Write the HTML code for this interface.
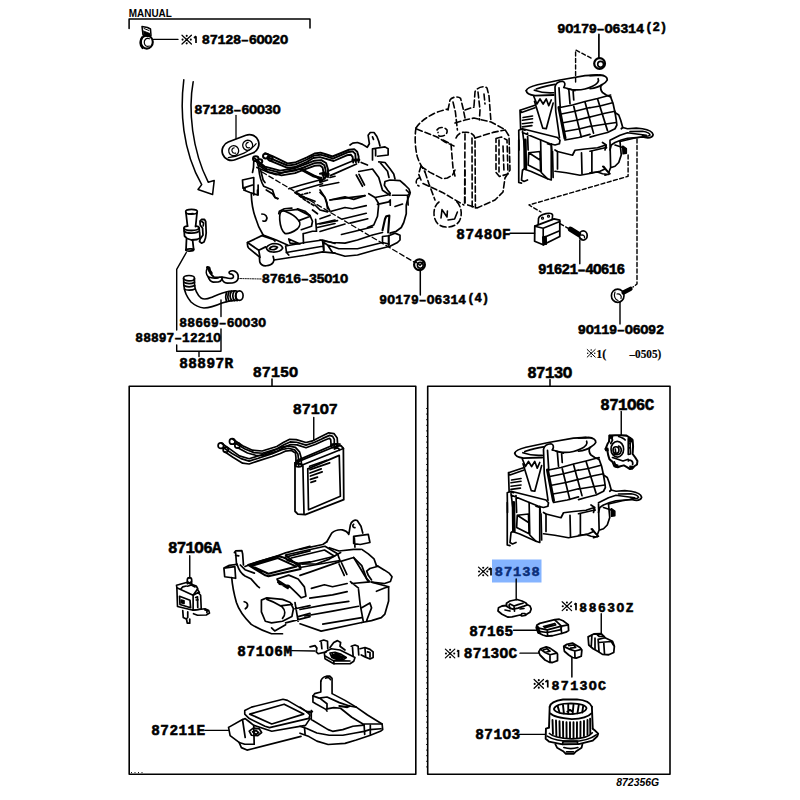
<!DOCTYPE html>
<html><head><meta charset="utf-8"><style>
html,body{margin:0;padding:0;background:#fff;}
svg{display:block}
.b{font-family:"Liberation Mono",monospace;font-weight:bold;stroke:#000;stroke-width:0.55px;}
.r{font-family:"Liberation Sans",sans-serif;}
.s{font-family:"Liberation Serif",serif;}
</style></head><body>
<svg width="800" height="800" viewBox="0 0 800 800">
<rect width="800" height="800" fill="#fff"/>
<rect x="492" y="559.5" width="49.5" height="23" fill="#85b4ff"/>
<g stroke="#000" fill="none" stroke-width="1.7" stroke-linecap="round" stroke-linejoin="round">
<!-- boxes -->
<rect x="129.2" y="386.2" width="286.6" height="388" stroke-width="1.6"/>
<rect x="427.7" y="386.2" width="242.3" height="388" stroke-width="1.6"/>
<!-- top bracket MANUAL -->
<path d="M129.1 28.5 V19.1 H310 V28" stroke-width="1.53"/>
<!-- clip 87128-60020 -->
<g>
<path d="M142 26.5 L147.5 27.5 L150.5 29 L151 35.5 L148 36.5 L143 35 Z" stroke-width="1.5"/>
<path d="M143.5 31 L150 33.5 L150 36 L143.5 34.5 Z" fill="#000" stroke-width="0.8"/>
<path d="M144 28.5 L149 30.5" stroke-width="1"/>
<ellipse cx="146.8" cy="42" rx="6" ry="6.6" stroke-width="2.1"/>
<path d="M142 37.5 C139.8 41 140 46 142.5 48" stroke-width="2.2"/>
<path d="M149.5 38.8 C145.5 37.5 144 40.5 144.3 43 C144.7 46 147 47 149.3 46" stroke-width="1.2"/>
<path d="M153.5 39.4 H178" stroke-width="1.3"/>
</g>
<!-- leader 87128-60030 -->
<path d="M236 115.5 V138.7" stroke-width="1.3"/>
<!-- grommet -->
<g transform="translate(240.5,147.5) rotate(-21)">
<rect x="-19" y="-9.5" width="38" height="19" rx="9.5" stroke-width="1.77"/>
<path d="M-15 5 C-5 8 8 7 16 2" stroke-width="1.18"/>
<circle cx="-7.5" cy="0.5" r="5" stroke-width="1.3"/>
<circle cx="7.5" cy="0.5" r="5" stroke-width="1.3"/>
<path d="M-6 -2 C-10 -2.5 -10.5 3 -6.5 3.5 M9 -2 C5 -2.5 4.5 3 8.5 3.5" stroke-width="1.18"/>
</g>
<!-- big arrow -->
<path d="M183.8 79.8 C180 110 182 150 201.7 184.6 L198 189.5 L212.6 194.4 L214.2 180.6 L208.2 182.2 C192 150 188 110 193.2 81.7" stroke-width="1.53"/>
<path d="M272 379 V386 M550 379.4 V386" stroke-width="1.53"/>
<path d="M426.7 408 V772" stroke-width="1" stroke-dasharray="1 4.6" stroke-linecap="butt"/>
<path d="M131 772.6 H145" stroke-width="1" stroke-dasharray="1 2.5" stroke-linecap="butt"/>

<!-- comp/10_heater_bl.svg -->
<g transform="translate(235,190) scale(0.125)">
<g vector-effect="non-scaling-stroke">
<path vector-effect="non-scaling-stroke" d="M130 30 C132 90 140 160 165 225 C180 280 200 320 225 360"/>
<path vector-effect="non-scaling-stroke" d="M215 192 C245 192 262 215 252 238 C246 250 232 252 224 248"/>
<path vector-effect="non-scaling-stroke" d="M375 170 C362 175 355 200 358 240 C362 290 378 330 400 348 C420 355 470 335 500 310 C520 290 525 262 510 245 C490 215 440 185 400 170 C390 166 380 167 375 170 Z"/>
<path vector-effect="non-scaling-stroke" d="M395 168 L500 155 L600 205 L620 250 L612 290 L530 318 M510 245 L598 212"/>
<path vector-effect="non-scaling-stroke" d="M350 190 L355 170 L395 150 L455 145 M500 150 L560 170 L600 205"/>
<path vector-effect="non-scaling-stroke" d="M645 235 L652 330 M660 272 L800 240 M658 300 L800 268"/>
<path vector-effect="non-scaling-stroke" d="M545 348 L548 425 M545 350 L620 330 L650 330"/>
<path vector-effect="non-scaling-stroke" d="M225 360 L330 400 L420 440"/>
<path vector-effect="non-scaling-stroke" d="M430 392 L440 425 L520 432 Z"/>
<path vector-effect="non-scaling-stroke" d="M100 420 L215 365 L305 395 L320 408 M100 420 C98 440 102 458 110 465 L195 535 L198 575 C205 595 225 608 250 606 C275 604 295 595 305 580 L312 560 L560 522 L700 495 L800 505"/>
<path vector-effect="non-scaling-stroke" d="M100 420 L190 482 L245 455 M190 482 L200 540 M312 560 L305 530"/>
<path vector-effect="non-scaling-stroke" d="M250 462 C265 440 290 428 320 428 C350 430 375 445 382 465 C370 485 335 498 300 496 C275 494 255 480 250 462 Z M275 470 C285 450 320 445 340 458 C330 478 300 485 275 470 Z"/>
<path vector-effect="non-scaling-stroke" d="M405 448 L412 500 L430 520 M405 448 L560 420 L700 400 L800 428 M410 500 L700 450 M700 402 L710 485"/>
<path vector-effect="non-scaling-stroke" d="M70 0 L120 20 L180 40 M250 0 L300 30 L320 60 L340 70 M180 40 L180 0"/>
<path vector-effect="non-scaling-stroke" d="M480 20 L560 60 L640 90 M520 50 L600 80 M640 120 L680 160 L740 175 M620 160 L660 190 M680 0 L720 60 L740 130 L760 170"/>
</g>
</g>

<!-- comp/11_heater_tl.svg -->
<g transform="translate(235,130) scale(0.125)">
<ellipse vector-effect="non-scaling-stroke" cx="166" cy="229" rx="22" ry="19" stroke-width="2"/>
<ellipse vector-effect="non-scaling-stroke" cx="199" cy="250" rx="19" ry="17" stroke-width="2"/>
<ellipse vector-effect="non-scaling-stroke" cx="246" cy="208" rx="22" ry="19" stroke-width="2"/>
<ellipse vector-effect="non-scaling-stroke" cx="282" cy="226" rx="19" ry="17" stroke-width="2"/>
<path vector-effect="non-scaling-stroke" d="M175 300 L270 340 L330 358 L400 335 L520 310 L560 300"/>
<path vector-effect="non-scaling-stroke" d="M150 252 L148 300 L140 340 M180 270 L190 300"/>
<path vector-effect="non-scaling-stroke" d="M60 400 L150 380 M60 400 L64 465 L82 472 M64 465 L140 440 M150 380 L150 520 M185 440 L185 520"/>
<path vector-effect="non-scaling-stroke" d="M190 310 C195 360 205 410 230 450 L300 480 L320 540 L345 548"/>
<path vector-effect="non-scaling-stroke" d="M205 320 L225 400 L240 420"/>
<path vector-effect="non-scaling-stroke" d="M430 470 L530 440 L640 410 L720 390 M490 492 L560 470 L700 430"/>
<path vector-effect="non-scaling-stroke" d="M540 318 L660 380 L690 400" stroke-width="2.36"/>
<path vector-effect="non-scaling-stroke" d="M690 380 L680 420 L740 400 M760 380 L800 370"/>
<path vector-effect="non-scaling-stroke" d="M480 500 L560 560 L640 610 M520 520 L600 500" stroke-dasharray="3 2"/>
</g>

<!-- comp/12_heater_tr.svg -->
<g transform="translate(320,125) scale(0.125)">
<path vector-effect="non-scaling-stroke" d="M62 370 L250 292 M82 405 L292 312"/>
<path vector-effect="non-scaling-stroke" d="M240 160 L262 145 L300 140 L340 155 L378 178 L395 150 L385 82 L402 60 L432 60 L455 92 L470 130 L480 168"/>
<path vector-effect="non-scaling-stroke" d="M420 95 L428 115"/>
<path vector-effect="non-scaling-stroke" d="M420 190 L520 175 L545 190 L545 240 L460 250 M420 190 L420 280 M445 195 L445 245"/>
<path vector-effect="non-scaling-stroke" d="M470 295 L520 300 L560 350 L590 392 L600 432 M482 302 L540 370 L552 420"/>
<path vector-effect="non-scaling-stroke" d="M520 452 L560 440 L640 445 L680 480 L712 512 L722 542 L702 562 L580 562 M520 452 L515 482 L540 520 L560 545 M700 562 L705 640"/>
<path vector-effect="non-scaling-stroke" d="M0 490 L150 460 M80 600 L200 585 L360 565 M290 400 L340 490 M312 395 L356 480"/>
<path vector-effect="non-scaling-stroke" d="M330 300 L380 320 M310 372 L420 352 L470 420 L500 522 L560 562"/>
<path vector-effect="non-scaling-stroke" d="M0 390 L40 380 L60 400 L20 440 L0 450" stroke-width="2.12"/>
</g>

<!-- comp/13_heater_br.svg -->
<g transform="translate(320,190) scale(0.125)">
<path vector-effect="non-scaling-stroke" d="M0 20 L40 60 L55 100 L60 150"/>
<path vector-effect="non-scaling-stroke" d="M80 80 L160 62 L200 55 L270 75 L360 45"/>
<path vector-effect="non-scaling-stroke" d="M90 170 L200 140 L260 150 L370 125"/>
<path vector-effect="non-scaling-stroke" d="M0 230 L80 202 M0 272 L140 245 M180 232 L370 186 M240 265 L382 230 M0 332 L200 272 M172 356 L420 296"/>
<path vector-effect="non-scaling-stroke" d="M390 30 L440 60 L470 110 L460 210 L430 280 L380 300 M440 60 L540 40 L562 30 M460 115 L550 95 L562 80 M562 80 L562 122 M600 132 L660 112"/>
<path vector-effect="non-scaling-stroke" d="M690 0 L720 30 L700 80 L690 120 L690 190 L670 260 L650 300 L610 330 L560 345"/>
<path vector-effect="non-scaling-stroke" d="M530 210 L555 205 L545 340 M500 322 L520 232 L530 210" stroke-width="2.12"/>
<path vector-effect="non-scaling-stroke" d="M0 400 L40 410 L100 420 L200 425 L300 400 L420 360 L500 340"/>
<path vector-effect="non-scaling-stroke" d="M30 420 L60 440 L150 470 L300 470 L500 420 M60 440 L100 500 L200 530 L300 520 L440 480 L560 450 L620 420 L640 400 L640 362 L600 345 M500 372 L550 366 L600 345 M500 372 L500 420 L550 432 M30 420 L30 482"/>
<path vector-effect="non-scaling-stroke" d="M550 366 L550 440" stroke-width="2.12"/>
</g>
<path d="M262 172 L414 262" stroke-dasharray="5 3" stroke-width="1.3"/>

<!-- comp/14_pipes.svg -->
<g transform="translate(250,140) scale(0.15)" stroke-width="1.9">
<path vector-effect="non-scaling-stroke" d="M100 88 L150 108 L250 156 L300 150 L380 116 L430 90 L470 84 L505 95 L550 110 L600 90 L660 65 L695 61 L715 78 L724 110 L724 148"/>
<path vector-effect="non-scaling-stroke" d="M116 114 L250 170 L300 164 L380 130 L425 104 L468 98 L505 108 L553 124 L650 82 L685 76 L702 93 L706 148"/>
<path vector-effect="non-scaling-stroke" d="M132 138 L250 186 L300 180 L380 146 L422 120 L466 114 L502 124 L558 140 L645 102 L672 98 L684 112 L688 150"/>
<path vector-effect="non-scaling-stroke" d="M30 122 L100 178 L200 204 L300 188 L380 158 L430 138 L475 134 L507 153 L520 195 L520 248"/>
<path vector-effect="non-scaling-stroke" d="M45 146 L110 194 L205 219 L300 204 L380 174 L430 154 L470 151 L496 168 L504 200 L504 248"/>
<path vector-effect="non-scaling-stroke" d="M60 170 L120 212 L210 236 L300 221 L360 198 L430 172 L465 169 L484 184 L489 210 L489 248"/>
<path vector-effect="non-scaling-stroke" d="M340 196 L420 240 L470 252" stroke-width="2.36"/>
<path vector-effect="non-scaling-stroke" d="M485 230 L522 228 M685 135 L726 132" stroke-width="2.83"/>
</g>

<!-- comp/20_valve.svg -->
<g transform="translate(170,200) scale(0.1)">
<ellipse vector-effect="non-scaling-stroke" cx="215" cy="118" rx="58" ry="24" stroke-width="1.77"/>
<path vector-effect="non-scaling-stroke" d="M160 130 L175 262 M270 130 L256 265" stroke-width="1.77"/>
<path vector-effect="non-scaling-stroke" d="M175 262 C150 262 138 270 140 285 C150 300 190 305 215 305 C250 305 285 295 292 282 C292 268 275 260 256 262" stroke-width="1.77"/>
<path vector-effect="non-scaling-stroke" d="M140 285 L142 310 C150 325 190 332 215 332 C250 330 285 322 294 308 L292 282" stroke-width="1.77"/>
<path vector-effect="non-scaling-stroke" d="M142 310 L145 360 L170 385 L215 400 L270 395 L300 380 L296 320" stroke-width="1.77"/>
<path vector-effect="non-scaling-stroke" d="M165 392 L160 500 M226 402 L236 492" stroke-width="1.77"/>
<path vector-effect="non-scaling-stroke" d="M158 500 C160 515 235 515 238 495 M160 500 C165 488 230 485 236 492" stroke-width="1.77"/>
<path vector-effect="non-scaling-stroke" d="M300 212 L315 195 L345 195 L357 215 L362 330 L355 380 L340 420 L315 432 L295 415 L302 390 L330 350 L326 282 L302 250 Z" stroke-width="1.77"/>
<path vector-effect="non-scaling-stroke" d="M318 215 L336 230 L332 258"/>
<path vector-effect="non-scaling-stroke" d="M185 140 L230 135"/>
</g>
<path d="M186.3 252.5 L176.7 269.3 V330" stroke-width="1.42"/>

<!-- comp/21_hose.svg -->
<g transform="translate(175,265) scale(0.1)">
<ellipse vector-effect="non-scaling-stroke" cx="140" cy="132" rx="55" ry="27" stroke-width="1.65"/>
<path vector-effect="non-scaling-stroke" d="M86 132 L88 200 C92 260 110 310 160 370 C200 405 240 425 290 430 C360 428 420 402 470 380 C520 362 570 352 620 355" stroke-width="1.65"/>
<path vector-effect="non-scaling-stroke" d="M195 135 L195 190 C198 240 210 285 260 330 C280 342 320 342 360 325 C420 300 480 272 540 262 C570 258 590 258 610 258" stroke-width="1.65"/>
<path vector-effect="non-scaling-stroke" d="M88 172 C110 190 170 190 195 172 M90 205 C110 222 170 222 196 205 M95 240 C110 255 170 255 200 240" />
<ellipse vector-effect="non-scaling-stroke" cx="645" cy="306" rx="36" ry="48" stroke-width="1.65"/>
<path vector-effect="non-scaling-stroke" d="M565 262 C548 290 548 330 568 356 M592 260 C575 290 575 330 595 356 M620 262 C602 290 602 330 622 356 M540 268 C525 300 525 330 540 360 M515 275 C505 300 505 330 515 365"/>

<path vector-effect="non-scaling-stroke" d="M325 25 L340 30 L346 58 L362 82" stroke-width="3.07"/>
<path vector-effect="non-scaling-stroke" d="M322 38 C308 60 310 95 332 118 C338 140 352 165 382 172 L432 170 C455 165 466 152 470 140 C476 160 495 178 522 182 L572 180 C600 176 622 162 630 140 C636 112 628 82 606 68 C590 56 560 56 545 66 C535 78 545 92 568 92 C585 100 590 116 578 130 C560 138 530 134 510 128 C490 122 470 120 450 121 C430 124 405 124 390 120 C370 108 358 90 350 75"/>
<path vector-effect="non-scaling-stroke" d="M335 120 C360 130 400 132 430 128 M470 140 L470 122"/>
</g>
<path d="M238 278.5 L262 279" stroke-width="0.9" stroke-dasharray="1.2 1.2"/>
<path d="M176.7 345 V351.2 H221 V329 M199 351.2 V356.5" stroke-width="1.42"/>
<path d="M221 300 V316.5" stroke-width="1.42"/>

<!-- comp/30_evap_dashed.svg -->
<g transform="translate(405,80) scale(0.2)" stroke-dasharray="6 3" stroke-width="1.6">
<path vector-effect="non-scaling-stroke" d="M55 240 C70 215 100 190 150 165 C175 155 200 148 215 145"/>
<path vector-effect="non-scaling-stroke" d="M55 240 C48 280 50 340 62 385 C70 410 82 430 100 460"/>
<path vector-effect="non-scaling-stroke" d="M58 245 L160 285 L200 310 L245 330"/>
<path vector-effect="non-scaling-stroke" d="M215 150 L225 100 C232 85 265 80 278 92 L290 140 L300 190"/>
<path vector-effect="non-scaling-stroke" d="M240 110 L252 160 L262 250 M300 150 L345 135"/>
<path vector-effect="non-scaling-stroke" d="M345 130 L350 60 C355 40 395 25 410 40 L420 80 L430 210"/>
<path vector-effect="non-scaling-stroke" d="M365 60 L375 150 L372 200 M395 70 L400 120"/>
<path vector-effect="non-scaling-stroke" d="M250 215 L300 200 L345 190 L430 210 L500 248 L520 280 L525 450 L500 490 L490 560 L450 600 L360 640 L300 620"/>
<path vector-effect="non-scaling-stroke" d="M255 290 C262 270 285 258 300 262 C320 258 345 270 350 290 L352 640"/>
<path vector-effect="non-scaling-stroke" d="M300 270 L298 620 M335 290 L336 640"/>
<path vector-effect="non-scaling-stroke" d="M350 290 L440 262 L500 250"/>
<path vector-effect="non-scaling-stroke" d="M80 432 L125 462 L188 494 L212 490 L238 475 L250 450 M300 450 L300 620"/>
<path vector-effect="non-scaling-stroke" d="M160 250 C170 232 200 235 210 250 C215 270 195 285 170 280 L165 262 M190 300 L230 320 L240 440 L250 480"/>
<path vector-effect="non-scaling-stroke" d="M455 292 L482 285 L510 300 L515 470 L472 482 L455 462 Z M470 300 L470 460 M490 330 L495 460"/>
<path vector-effect="non-scaling-stroke" d="M80 430 L68 470 L80 500 M70 490 C55 495 48 520 70 530 M100 460 L120 520 L150 600"/>
<path vector-effect="non-scaling-stroke" d="M170 610 C140 630 135 690 165 720 C195 745 250 740 272 705 C290 670 280 625 255 605"/>
<path vector-effect="non-scaling-stroke" d="M90 518 L187 562 L294 625"/>
<path vector-effect="non-scaling-stroke" d="M180 690 L185 648 L210 685 L212 655 M215 700 L248 695 L262 660" stroke-dasharray="none"/>
</g>
<g>
<circle cx="419.5" cy="264.7" r="5.4" stroke-width="2.2"/>
<circle cx="420.3" cy="265.3" r="2.9" stroke-width="1.6"/>
<path d="M416 262 L420 265.5 L423 262" stroke-width="1.2"/>
<path d="M420.3 270.5 V295" stroke-width="1.5"/>
</g>

<!-- comp/40_blower.svg -->
<g id="blw">
<g transform="translate(510,70) scale(0.125)">
<path vector-effect="non-scaling-stroke" d="M130 165 C135 145 170 130 220 118 L400 80 L600 45 L700 40" stroke-width="1.77"/>
<path vector-effect="non-scaling-stroke" d="M130 165 C132 185 160 200 200 205 L350 200" stroke-width="1.77"/>
<path vector-effect="non-scaling-stroke" d="M195 162 C240 178 300 185 350 182 M210 152 C260 135 320 120 360 115"/>
<path vector-effect="non-scaling-stroke" d="M460 150 C520 165 600 160 660 130 C700 110 715 90 705 70"/>
<path vector-effect="non-scaling-stroke" d="M190 210 L215 272 L240 232 L265 272 L290 232 L310 285 L330 240"/>
<path vector-effect="non-scaling-stroke" d="M196 250 L262 465 L290 470 L345 265"/>
<path vector-effect="non-scaling-stroke" d="M360 135 C365 105 385 92 420 90 C440 95 445 115 432 138 M360 135 L366 330 L396 542 M392 142 L402 300"/>
<path vector-effect="non-scaling-stroke" d="M392 300 L440 545" stroke-width="3.07"/>
<path vector-effect="non-scaling-stroke" d="M430 140 L470 150 L480 270 M470 150 L520 165 M505 170 L510 240"/>
<path vector-effect="non-scaling-stroke" d="M400 300 L500 280 L600 252 L700 228 L805 200"/>
<path vector-effect="non-scaling-stroke" d="M440 560 L550 540 L640 515"/>
<path vector-effect="non-scaling-stroke" d="M410 352 L520 330 L640 300 M425 422 L540 400 L640 375 M435 492 L560 470 L640 450"/>
<path vector-effect="non-scaling-stroke" d="M510 290 L570 535 M600 256 L668 505 M700 230 L780 485"/>
<path vector-effect="non-scaling-stroke" d="M80 322 L200 282 M80 322 L85 472 L120 482 M80 322 L92 340 L200 302 M105 380 L180 368 M100 402 L180 390 M100 430 L180 420 M100 455 L175 445"/>
<path vector-effect="non-scaling-stroke" d="M70 482 L100 470 L380 540 L400 562 L395 590 L360 600 L320 590 L100 500 M70 482 L72 640 M100 488 L120 640 M140 505 L145 640"/>
<path vector-effect="non-scaling-stroke" d="M330 590 L335 640"/>
</g>
<g transform="translate(590,70) scale(0.125)">
<path vector-effect="non-scaling-stroke" d="M0 45 L80 40 C120 42 140 60 138 80 C130 100 110 110 92 120 C80 135 85 165 100 180 L130 200 L165 215" stroke-width="1.77"/>
<path vector-effect="non-scaling-stroke" d="M0 150 C40 145 80 130 95 118"/>
<path vector-effect="non-scaling-stroke" d="M165 215 L185 270 L200 340 L210 400 L215 440 L200 470 L140 500 L60 520 L0 537"/>
<path vector-effect="non-scaling-stroke" d="M0 302 L80 288 L180 262 M0 376 L120 346 L200 330 M0 452 L100 436 L210 420"/>
<path vector-effect="non-scaling-stroke" d="M200 340 L230 360 L245 400 L262 460 L300 470 L370 465 L420 470 C470 478 500 495 505 518 C500 538 480 545 450 542 L420 536 L300 546 L250 560 L200 580 L170 600 L160 640"/>
<path vector-effect="non-scaling-stroke" d="M320 492 L420 490 C455 495 478 505 480 520 C470 532 440 530 420 522 M262 460 L250 470"/>
<path vector-effect="non-scaling-stroke" d="M100 580 L130 600 L120 640 M200 600 L262 620"/>
</g>
<g transform="translate(510,140) scale(0.125)">
<path vector-effect="non-scaling-stroke" d="M70 0 L70 340 L92 345 M112 0 L115 230 L100 242 L92 320 L112 332 L140 320"/>
<path vector-effect="non-scaling-stroke" d="M122 0 L126 230" stroke-width="2.83"/>
<path vector-effect="non-scaling-stroke" d="M150 102 L240 92 L245 250 M150 102 L145 200 L245 250 M150 102 L240 160"/>
<path vector-effect="non-scaling-stroke" d="M245 0 L250 260 L300 310 L330 320 L330 40 L300 30"/>
<path vector-effect="non-scaling-stroke" d="M112 232 L170 252 L300 310"/>
<path vector-effect="non-scaling-stroke" d="M360 80 L380 92 L500 122 L520 82 L600 72 L700 62 L760 42 L772 62"/>
<path vector-effect="non-scaling-stroke" d="M360 250 L450 262 L560 282 L650 266 L720 250 L760 232"/>
<path vector-effect="non-scaling-stroke" d="M380 92 L380 232 M572 102 L576 272 M655 92 L655 262 M340 90 L345 300"/>
<path vector-effect="non-scaling-stroke" d="M742 212 L790 262"/>
</g>
<g transform="translate(590,130) scale(0.125)">
<path vector-effect="non-scaling-stroke" d="M160 82 L240 42 L300 22 L450 42 M240 92 L350 66 L440 52"/>
<path vector-effect="non-scaling-stroke" d="M160 92 L165 300 L150 340 M0 170 L130 140 M240 92 L250 200 L230 260 L200 290 L170 300"/>
<path vector-effect="non-scaling-stroke" d="M262 130 L290 150 L290 185 L265 190 Z" fill="#000"/>
<path vector-effect="non-scaling-stroke" d="M110 292 L140 330 L160 350 L120 362 M0 342 L60 336 L100 350 L150 356"/>
</g>
</g>
<use href="#blw" transform="translate(-11.5,362.5)"/>
<!-- dashed lines top right -->
<path d="M628.1 155 V176.3 L529 205 L541 212 M560 223.7 L571 230" stroke-dasharray="4 2.5" stroke-width="1.42"/>
<path d="M637 139 V284 L633 287" stroke-dasharray="4 2.5" stroke-width="1.42"/>
<path d="M575.6 82 V50 L593 59" stroke-dasharray="4 2.5" stroke-width="1.42"/>
<!-- nut top -->
<circle cx="599.6" cy="63.5" r="5.4" stroke-width="2.2"/>
<circle cx="600.6" cy="64.3" r="2.9" stroke-width="1.6"/>
<path d="M598.9 34.4 V58" stroke-width="1.7"/>

<!-- comp/50_relay.svg -->
<g transform="translate(520,200) scale(0.1)">
<path vector-effect="non-scaling-stroke" d="M182 245 L185 185 C190 160 210 148 260 136 C300 128 320 132 326 150 L322 195" stroke-width="1.65"/>
<circle vector-effect="non-scaling-stroke" cx="225" cy="182" r="10" stroke-width="1.18"/>
<circle vector-effect="non-scaling-stroke" cx="285" cy="162" r="10" stroke-width="1.18"/>
<path vector-effect="non-scaling-stroke" d="M148 262 L340 188 L398 202 L398 365 L232 448 L146 412 Z" stroke-width="1.77"/>
<path vector-effect="non-scaling-stroke" d="M148 262 L232 282 L398 215 M232 282 L232 448" stroke-width="1.65"/>
<path vector-effect="non-scaling-stroke" d="M255 368 L385 312 M258 372 L262 438"/>
<path vector-effect="non-scaling-stroke" d="M228 372 L258 366 L262 440 L234 446 Z" fill="#000"/>
<path vector-effect="non-scaling-stroke" d="M-100 333 L146 333" stroke-width="1.42"/>
<path vector-effect="non-scaling-stroke" d="M505 292 L585 342" stroke-width="5.31"/>
<ellipse vector-effect="non-scaling-stroke" cx="632" cy="355" rx="40" ry="46" stroke-width="1.77"/>
<path vector-effect="non-scaling-stroke" d="M600 330 C590 360 600 385 620 392 M612 352 C630 345 650 358 645 378" stroke-width="1.3"/>
<path vector-effect="non-scaling-stroke" d="M598 400 L598 638" stroke-width="1.42"/>
</g>
<!-- bolt 90119-06092 -->
<g stroke-width="1.65">
<ellipse cx="617.7" cy="295.7" rx="6.3" ry="6.6"/>
<path d="M615 292 C613.5 296 615 299.5 618 300.5 M617 294 C620 293.5 622 296 621 298.5" stroke-width="1.18"/>
<path d="M623.5 292.5 L630.5 288.8" stroke-width="4.25"/>
<path d="M620 302 V324" stroke-width="1.42"/>
</g>

<!-- comp/60_core.svg -->
<g transform="translate(205,410) scale(0.1875)">
<path vector-effect="non-scaling-stroke" d="M580 40 L580 160" stroke-width="1.42"/>
<path vector-effect="non-scaling-stroke" d="M480 282 L700 192 L725 190 L738 205 L740 478 L535 558 L495 555 L480 540 Z" stroke-width="1.77"/>
<path vector-effect="non-scaling-stroke" d="M480 282 L522 292 L528 555 M522 292 L738 205 M490 270 L700 180 L720 182"/>
<path vector-effect="non-scaling-stroke" d="M548 314 L716 242 L722 460 L552 532 Z"/>
<path vector-effect="non-scaling-stroke" d="M558 300 L650 268 M560 318 L665 282 M560 336 L620 314 M562 352 L625 330 M562 370 L600 358 M565 386 L590 378 M690 208 C705 198 720 205 715 215"/>
</g>

<g transform="translate(215,425) scale(0.1625)">
<path vector-effect="non-scaling-stroke" d="M40 112 L95 150 L150 190 L210 208 L260 192 L350 162 L405 138 L450 128 L495 138 L520 165 L530 200 L532 250"/>
<path vector-effect="non-scaling-stroke" d="M55 142 L105 175 L160 207 L210 222 L262 206 L352 176 L410 152 L452 143 L490 153 L510 178 L514 210 L515 250"/>
<path vector-effect="non-scaling-stroke" d="M60 165 L110 198 L170 235 L210 240 L262 222 L352 194 L402 175 L432 161 L470 157 L495 172 L498 200 L498 250"/>
<path vector-effect="non-scaling-stroke" d="M110 88 L170 128 L230 155 L290 160 L380 132 L420 108 L460 88 L500 90 L560 108 L600 98 L650 72 L700 48 L732 53 L752 80 L754 110 L748 132"/>
<path vector-effect="non-scaling-stroke" d="M125 112 L185 148 L240 170 L292 174 L382 146 L424 122 L462 104 L502 106 L560 124 L610 108 L660 84 L705 64 L724 70 L734 88 L734 130"/>
<path vector-effect="non-scaling-stroke" d="M140 140 L200 172 L250 186 L295 188 L385 160 L428 136 L465 120 L505 122 L560 140 L620 118 L670 95 L705 82 L712 90 L715 130"/>
<circle vector-effect="non-scaling-stroke" cx="36" cy="127" r="17"/>
<circle vector-effect="non-scaling-stroke" cx="66" cy="152" r="16"/>
<circle vector-effect="non-scaling-stroke" cx="106" cy="101" r="17"/>
<circle vector-effect="non-scaling-stroke" cx="138" cy="126" r="16"/>
<ellipse vector-effect="non-scaling-stroke" cx="735" cy="128" rx="22" ry="12"/>
<ellipse vector-effect="non-scaling-stroke" cx="515" cy="248" rx="22" ry="10"/>
</g>
<!-- comp/61_heater2.svg -->
<g transform="translate(220,515) scale(0.15625)">
<path vector-effect="non-scaling-stroke" d="M25 340 L95 330 L100 405 L30 395 Z M25 340 L60 322 L110 315"/>
<path vector-effect="non-scaling-stroke" d="M92 240 L100 230 L140 228 L145 250 L150 320 M100 240 L106 320 M100 258 L120 262"/>
<path vector-effect="non-scaling-stroke" d="M110 318 C120 350 135 375 160 390 L200 410 L240 455 L252 465 M130 320 L160 350 L220 372"/>
<path vector-effect="non-scaling-stroke" d="M75 400 C78 440 88 500 105 560 C118 600 140 640 200 700 C240 725 270 740 330 760 L400 760"/>
<path vector-effect="non-scaling-stroke" d="M155 555 C180 560 185 585 162 600"/>
<path vector-effect="non-scaling-stroke" d="M160 330 L240 300 L360 265 L420 242 L576 200"/>
<path vector-effect="non-scaling-stroke" d="M180 320 L370 262 L400 270 L510 320 L516 345 L310 392 L290 386 Z M200 326 L370 276 L490 330 L310 376 Z" stroke-width="2"/>
<path vector-effect="non-scaling-stroke" d="M418 270 L576 230 M430 290 L500 310 L576 300"/>
<path vector-effect="non-scaling-stroke" d="M365 410 L440 385 L500 410 L540 460 L550 520 L520 530 L490 500 L440 452 L380 442 Z M375 420 L440 462 M370 430 L435 470"/>
<path vector-effect="non-scaling-stroke" d="M265 545 L300 530 L400 540 L450 560 L470 600 L460 650 L400 680 L330 690 L290 680 L265 620 Z M300 540 C330 550 370 570 395 585 C420 610 420 640 400 662 M385 582 L462 572"/>
<path vector-effect="non-scaling-stroke" d="M480 600 L576 580 M500 650 L576 630 M420 690 L576 650 M330 722 L350 742 L420 702 M480 560 L490 620 L500 680"/>
</g>
<g transform="translate(300,510) scale(0.1626)">
<path vector-effect="non-scaling-stroke" d="M165 195 L195 142 C210 128 235 120 260 122 C285 128 295 140 300 150 L310 92 C315 70 335 58 352 65 L375 100 L386 142"/>
<path vector-effect="non-scaling-stroke" d="M330 88 C320 95 325 110 338 108"/>
<path vector-effect="non-scaling-stroke" d="M330 162 L420 150 L430 200 L370 212 L330 206 Z M334 168 L338 228"/>
<path vector-effect="non-scaling-stroke" d="M380 242 L420 270 L455 300 L470 342"/>
<path vector-effect="non-scaling-stroke" d="M410 376 L430 360 L480 346 L520 370 L550 390 L566 410 L556 440 L520 452 L440 444 M410 376 L420 402 L440 430"/>
<path vector-effect="non-scaling-stroke" d="M440 444 L545 472 L545 560 L522 640 L500 662 L440 680 L380 692 M360 490 L370 580 L390 690 M382 600 L430 572 L440 602 L410 680"/>
<path vector-effect="non-scaling-stroke" d="M70 482 L150 460 L200 472 L290 452 M60 542 L200 522 L290 502 M0 612 L160 582 L300 562 M30 652 L200 622 L360 592 M140 702 L380 662"/>
<path vector-effect="non-scaling-stroke" d="M0 242 L140 212 L165 195 M0 332 L100 332 L180 302 L250 262 M0 402 L60 382 L230 322 L330 292 L420 440 M240 332 L272 402 M256 326 L288 396"/>
<path vector-effect="non-scaling-stroke" d="M330 292 L380 342 L410 422 L430 442 L320 452 L310 440 L360 480"/>
<path vector-effect="non-scaling-stroke" d="M180 232 L240 252 L330 242 L372 242 M0 700 L130 745 L380 692"/>
<path vector-effect="non-scaling-stroke" d="M470 342 L480 346 M545 472 L520 480 L470 500"/>
</g>
<g transform="translate(205,505) scale(0.25)">
<path vector-effect="non-scaling-stroke" d="M322 200 L480 165 L530 195 L540 222 L380 250 Z M345 212 L478 180 L518 205 L390 236"/>
</g>

<!-- comp/62_act_a.svg -->
<g transform="translate(150,530) scale(0.125)">
<path vector-effect="non-scaling-stroke" d="M318 205 L318 385" stroke-width="1.42"/>
<ellipse vector-effect="non-scaling-stroke" cx="316" cy="402" rx="18" ry="21" stroke-width="1.65"/>
<path vector-effect="non-scaling-stroke" d="M300 412 L300 430 M332 412 L334 432"/>
<path vector-effect="non-scaling-stroke" d="M212 442 L292 420 L370 448 L382 470 L345 522 L215 462 Z" stroke-width="1.65"/>
<path vector-effect="non-scaling-stroke" d="M215 462 L220 612 L345 642 L345 522 M345 522 L385 500 L405 522 L410 632 L345 642" stroke-width="1.65"/>
<path vector-effect="non-scaling-stroke" d="M236 530 L320 562 L325 622 L240 596 Z"/>
<path vector-effect="non-scaling-stroke" d="M250 560 L272 566 L272 588 L250 582 Z" fill="#000"/>
<path vector-effect="non-scaling-stroke" d="M345 642 L440 630 L470 645 L476 665 L450 680 L380 682 L348 670 M440 640 C452 640 460 650 455 660"/>
<path vector-effect="non-scaling-stroke" d="M262 645 L266 700 L290 712 L302 700 L302 655 M292 712 L298 745 L318 745 L318 712"/>
<path vector-effect="non-scaling-stroke" d="M248 470 L262 455 L290 448 M300 450 L330 440 L360 455 M380 475 L395 500 M365 540 L380 535 L382 620 M370 560 L385 558"/>
</g>

<!-- comp/63_link_m.svg -->
<g transform="translate(290,630) scale(0.125)">
<path vector-effect="non-scaling-stroke" d="M14 165 L200 168" stroke-width="1.3"/>
<path vector-effect="non-scaling-stroke" d="M160 135 L200 125 L215 145 L210 175 L225 190 L290 175"/>
<path vector-effect="non-scaling-stroke" d="M240 90 L270 80 L300 90 L302 150 M250 100 L255 150"/>
<path vector-effect="non-scaling-stroke" d="M275 185 L280 230 L350 270 L480 270 L510 250 L520 220 L480 200 L400 160 L330 150 L290 170 Z" stroke-width="1.65"/>
<path vector-effect="non-scaling-stroke" d="M320 140 L350 100 L380 85 L405 100 L400 130 L440 160"/>
<path vector-effect="non-scaling-stroke" d="M320 185 L360 178 L410 195 L450 220 L430 235 L380 238 L335 220 Z M340 195 L420 230 M360 190 L440 225 M330 205 L400 236"/>
<path vector-effect="non-scaling-stroke" d="M285 210 L345 245 L480 248 M350 250 L352 270"/>
<path vector-effect="non-scaling-stroke" d="M490 130 L520 120 L545 130 L550 200 M500 140 L505 210"/>
<path vector-effect="non-scaling-stroke" d="M560 150 L600 140 L640 155 L665 175 L665 220 L640 232 L600 215 L570 200 M620 175 L640 180 L640 215 M600 150 L605 210"/>
</g>

<!-- comp/64_duct.svg -->
<g transform="translate(220,670) scale(0.225)">
<path vector-effect="non-scaling-stroke" d="M-68 268 L38 268" stroke-width="1.3"/>
<path vector-effect="non-scaling-stroke" d="M38 255 L100 220 L112 216 L130 230 L150 246 L230 272 L380 246 L400 216 M38 255 L45 292 L85 322 L95 345 L120 356 L145 350 L360 295" stroke-width="1.65"/>
<path vector-effect="non-scaling-stroke" d="M110 180 L140 165 L280 130 L300 135 L385 185 L400 200 L395 215 L220 256 L200 250 L130 216 L110 196 Z" stroke-width="1.65"/>
<path vector-effect="non-scaling-stroke" d="M132 196 L285 152 L372 196 L230 240 Z"/>
<path vector-effect="non-scaling-stroke" d="M130 272 L148 258 L175 262 L185 278 L168 292 L140 290 Z M145 275 L160 268 L172 278 L160 286 Z"/>
<path vector-effect="non-scaling-stroke" d="M100 220 L112 300 M150 246 L152 330 M85 322 L110 330 L150 330"/>
<path vector-effect="non-scaling-stroke" d="M385 185 L400 185"/>
</g>
<g transform="translate(300,670) scale(0.1125)">
<path vector-effect="non-scaling-stroke" d="M185 100 C190 80 210 60 235 55 L265 55 L285 75 L285 210 L400 270 L500 330 L600 400 L730 480 L735 530 L720 542 L620 582 L500 622 L400 652 L250 662 L150 632 L80 592 L0 562" stroke-width="1.65"/>
<path vector-effect="non-scaling-stroke" d="M185 100 L185 195 L130 210 L115 230 L115 285 L140 300 L230 350 L240 366" stroke-width="1.65"/>
<path vector-effect="non-scaling-stroke" d="M228 72 C240 62 265 68 270 85"/>
<path vector-effect="non-scaling-stroke" d="M115 230 L170 250 L240 240 L350 290 L440 320 L500 330 M175 250 L240 300 L240 345"/>
<path vector-effect="non-scaling-stroke" d="M240 345 L300 335 L360 340 L460 420 L560 480 L730 480 M100 380 L100 440 L250 530 L290 545 L380 530 L470 500 L570 490"/>
<path vector-effect="non-scaling-stroke" d="M0 500 L60 520 L150 560 L260 580 L380 580 L490 560 L570 545 L620 530 L720 522"/>
<path vector-effect="non-scaling-stroke" d="M570 490 L575 572 M625 490 L625 575 M40 510 L45 570 M0 330 L60 370 L100 380 M60 370 L80 380 L110 370 L100 360"/>
<path vector-effect="non-scaling-stroke" d="M350 320 L420 330 L440 320" stroke-width="2.2"/>
</g>

<!-- comp/70_act_c.svg -->
<g transform="translate(595,405) scale(0.0875)">
<path vector-effect="non-scaling-stroke" d="M300 75 L300 345" stroke-width="1.42"/>
<path vector-effect="non-scaling-stroke" d="M165 350 L230 345 L300 345 L360 350 L400 375 L430 400 L435 470 L430 560 L460 600 L485 640 L480 680 L450 700 L430 722 L400 732 L370 712 L330 690 L290 700 L260 712 L220 700 L200 650 L165 620 L150 570 L140 512 L120 505 L145 440 L160 420 Z" stroke-width="2.01"/>
<ellipse vector-effect="non-scaling-stroke" cx="255" cy="505" rx="72" ry="90" stroke-width="1.65"/>
<ellipse vector-effect="non-scaling-stroke" cx="240" cy="515" rx="34" ry="38" stroke-width="1.65"/>
<path vector-effect="non-scaling-stroke" d="M232 505 L236 540"/>
<path vector-effect="non-scaling-stroke" d="M380 385 L400 385 L405 560 L380 565 Z M382 440 L404 440 M382 490 L404 490" stroke-width="1.65"/>
<path vector-effect="non-scaling-stroke" d="M180 360 L200 400 L180 440 M200 600 L320 640 L380 620 M380 640 C400 620 440 640 430 680 M220 650 L240 700"/>
<path vector-effect="non-scaling-stroke" d="M270 360 C300 370 330 380 345 400" stroke-width="1.65"/>
<path vector-effect="non-scaling-stroke" d="M165 350 L200 355 L195 380 L170 375 Z M395 375 L425 395 L420 420 L395 410 Z M120 500 L145 495 L148 520 L125 520 Z M230 680 L260 690 L255 710 L228 700 Z M400 700 L430 705 L428 728 L402 725 Z" fill="#000"/>
<path vector-effect="non-scaling-stroke" d="M270 470 C300 480 310 520 290 550 C270 570 235 575 215 560"/>
</g>

<!-- comp/71_p87138.svg -->
<g transform="translate(480,585) scale(0.1)">
<path vector-effect="non-scaling-stroke" d="M362 -60 L362 148" stroke-width="1.42"/>
<path vector-effect="non-scaling-stroke" d="M265 205 L220 210 L185 228 L180 260 L220 292 L280 322 L320 318 L400 300 L420 310 L450 305 L470 290 L500 272 L512 240 L500 210 L470 195" stroke-width="1.77"/>
<path vector-effect="non-scaling-stroke" d="M265 182 L300 160 L370 145 L420 160 L460 180 L472 200 L440 212 L380 232 L330 242 L300 232 L265 212 Z" stroke-width="1.77"/>
<path vector-effect="non-scaling-stroke" d="M300 190 L340 210 L380 196 L430 182 M340 210 L345 262 M290 200 L300 236 M250 250 L300 260 M400 240 L440 235 M410 300 L420 285 L450 285 L455 300"/>
</g>

<!-- comp/72_p87165.svg -->
<g transform="translate(530,605) scale(0.075)">
<path vector-effect="non-scaling-stroke" d="M90 270 L130 245 L250 215 L330 195 L390 190 L440 210 L510 262 L515 340 L480 362 L420 380 L300 410 L220 415 L170 400 L110 370 L95 330 Z" stroke-width="1.77"/>
<path vector-effect="non-scaling-stroke" d="M95 290 L130 312 L230 332 L420 282 L510 265 M180 286 L330 246 L342 266 L200 302 Z M120 352 L230 367 L400 332 L420 302 M230 332 L235 410 M412 282 L422 380 M330 198 L420 282"/>
<path vector-effect="non-scaling-stroke" d="M95 300 L120 362" stroke-width="3.54"/>
</g>
<path d="M513.5 630.3 H537.5" stroke-width="1.42"/>

<!-- comp/73_small.svg -->
<g transform="translate(550,590) scale(0.125)">
<path vector-effect="non-scaling-stroke" d="M410 190 L410 350" stroke-width="1.42"/>
<path vector-effect="non-scaling-stroke" d="M305 375 L350 352 L410 350 L435 375 L440 382 L500 410 L515 450 L510 500 L470 518 L420 515 L385 492 L345 470 L310 440 Z" stroke-width="1.77"/>
<path vector-effect="non-scaling-stroke" d="M335 365 L330 450 M360 385 L360 470 M385 395 L440 382 M385 395 L392 492 M390 420 L490 412 L510 445 M430 420 L436 512 M380 360 L395 372 L430 370"/>
</g>
<g transform="translate(520,640) scale(0.125)">
<path vector-effect="non-scaling-stroke" d="M0 105 L150 105" stroke-width="1.42"/>
<path vector-effect="non-scaling-stroke" d="M150 95 L165 70 L210 55 L240 65 L290 100 L300 112 L300 165 L260 180 L235 178 L200 160 L160 120 Z" stroke-width="1.77"/>
<path vector-effect="non-scaling-stroke" d="M165 75 L200 100 L240 118 L295 105 M185 80 L215 70 L240 90 L205 98 M240 118 L240 176"/>
<path vector-effect="non-scaling-stroke" d="M350 50 L375 35 L420 25 L480 60 L495 80 L490 130 L450 145 L420 140 L390 120 L355 90 Z" stroke-width="1.77"/>
<path vector-effect="non-scaling-stroke" d="M358 55 L400 75 L440 88 L490 75 M390 45 L430 40 L445 60 L405 65 M438 88 L440 142"/>
<path vector-effect="non-scaling-stroke" d="M415 142 L415 295" stroke-width="1.53"/>
</g>

<!-- comp/74_motor.svg -->
<g transform="translate(535,695) scale(0.0875)">
<path vector-effect="non-scaling-stroke" d="M-180 450 L120 450" stroke-width="1.42"/>
<path vector-effect="non-scaling-stroke" d="M168 135 C175 95 230 65 320 52 L480 50 C570 58 635 90 650 135" stroke-width="1.89"/>
<path vector-effect="non-scaling-stroke" d="M168 135 L160 372 M650 135 L660 382" stroke-width="1.89"/>
<path vector-effect="non-scaling-stroke" d="M175 210 C200 240 300 265 420 275 C520 272 610 250 645 210" stroke-width="1.77"/>
<path vector-effect="non-scaling-stroke" d="M215 160 C230 115 320 95 410 95 C500 98 580 115 590 150 C580 195 500 215 405 218 C310 215 225 195 215 160 Z" stroke-width="1.65"/>
<path vector-effect="non-scaling-stroke" d="M260 130 L280 200 M320 115 L330 210 M380 110 L380 215 M440 110 L430 215 M500 115 L485 210 M550 130 L540 200 M370 190 L400 170 L430 190" stroke-width="1.89"/>
<path vector-effect="non-scaling-stroke" d="M200 285 L205 445 M240 292 L244 462 M280 300 L283 475 M320 305 L322 485 M360 310 L361 492 M400 312 L400 495 M440 312 L440 495 M480 310 L479 490 M520 305 L519 482 M560 297 L559 470 M600 285 L600 455 M630 272 L632 440" stroke-width="1.89"/>
<path vector-effect="non-scaling-stroke" d="M160 372 L125 385 L122 500 L160 532 L300 562 L500 562 L660 522 L712 472 L722 442 L692 412 L660 385" stroke-width="1.89"/>
<path vector-effect="non-scaling-stroke" d="M165 440 C200 475 300 495 420 502 C530 500 620 475 655 432 M140 470 C200 510 320 530 420 530 C540 528 640 500 700 455"/>
<path vector-effect="non-scaling-stroke" d="M232 562 L252 602 L322 642 L352 672 L442 672 L472 642 L532 602 L542 562" stroke-width="1.77"/>
<path vector-effect="non-scaling-stroke" d="M322 528 L482 528 L490 562 L312 566 Z" fill="#555"/>
<path vector-effect="non-scaling-stroke" d="M330 600 C380 615 440 615 490 600 M360 650 L440 650"/>
</g>

</g>
<g>
<text x="201.84" y="43.80" font-size="13.63" textLength="86.23" lengthAdjust="spacing" class="b" fill="#000">87128–6OO2O</text>
<text x="557.32" y="33.30" font-size="13.66" textLength="86.77" lengthAdjust="spacing" class="b" fill="#000">9O179–O6314</text>
<text x="645.32" y="31.30" font-size="12.30" textLength="21.77" lengthAdjust="spacing" class="b" fill="#000">(2)</text>
<text x="194.32" y="114.30" font-size="13.66" textLength="86.27" lengthAdjust="spacing" class="b" fill="#000">87128–6OO3O</text>
<text x="456.28" y="239.30" font-size="14.33" textLength="54.36" lengthAdjust="spacing" class="b" fill="#000">8748OF</text>
<text x="261.82" y="283.05" font-size="13.66" textLength="86.27" lengthAdjust="spacing" class="b" fill="#000">87616–35O1O</text>
<text x="538.03" y="274.30" font-size="14.33" textLength="87.11" lengthAdjust="spacing" class="b" fill="#000">91621–4O616</text>
<text x="379.34" y="303.80" font-size="12.91" textLength="86.71" lengthAdjust="spacing" class="b" fill="#000">9O179–O6314</text>
<text x="467.34" y="302.40" font-size="12.30" textLength="21.71" lengthAdjust="spacing" class="b" fill="#000">(4)</text>
<text x="179.33" y="326.80" font-size="12.95" textLength="86.75" lengthAdjust="spacing" class="b" fill="#000">88669–6OO3O</text>
<text x="577.84" y="334.30" font-size="13.63" textLength="86.23" lengthAdjust="spacing" class="b" fill="#000">9O119–O6O92</text>
<text x="135.34" y="341.80" font-size="12.91" textLength="85.71" lengthAdjust="spacing" class="b" fill="#000">88897–1221O</text>
<text x="179.31" y="367.80" font-size="14.40" textLength="53.79" lengthAdjust="spacing" class="b" fill="#000">88897R</text>
<text x="252.76" y="376.80" font-size="15.12" textLength="45.42" lengthAdjust="spacing" class="b" fill="#000">8715O</text>
<text x="527.25" y="377.80" font-size="15.87" textLength="44.94" lengthAdjust="spacing" class="b" fill="#000">8713O</text>
<text x="292.75" y="414.30" font-size="15.14" textLength="44.96" lengthAdjust="spacing" class="b" fill="#000">871O7</text>
<text x="600.24" y="409.80" font-size="15.88" textLength="53.98" lengthAdjust="spacing" class="b" fill="#000">871O6C</text>
<text x="168.00" y="553.30" font-size="15.87" textLength="53.44" lengthAdjust="spacing" class="b" fill="#000">871O6A</text>
<text x="579.36" y="612.30" font-size="12.84" textLength="54.17" lengthAdjust="spacing" class="b" fill="#000">8863OZ</text>
<text x="469.31" y="635.80" font-size="14.40" textLength="43.79" lengthAdjust="spacing" class="b" fill="#000">87165</text>
<text x="237.28" y="655.80" font-size="14.33" textLength="54.86" lengthAdjust="spacing" class="b" fill="#000">871O6M</text>
<text x="463.81" y="658.30" font-size="14.40" textLength="53.29" lengthAdjust="spacing" class="b" fill="#000">8713OC</text>
<text x="551.56" y="689.80" font-size="13.30" textLength="54.54" lengthAdjust="spacing" class="b" fill="#000">8713OC</text>
<text x="151.28" y="734.80" font-size="14.33" textLength="53.86" lengthAdjust="spacing" class="b" fill="#000">87211E</text>
<text x="475.28" y="738.80" font-size="14.33" textLength="44.86" lengthAdjust="spacing" class="b" fill="#000">871O3</text>
<path d="M182.00 35.20 L191.40 44.00 M191.40 35.20 L182.00 44.00" stroke="#000" stroke-width="1.25" fill="none" stroke-linecap="round"/><circle cx="182.56" cy="39.60" r="1.05" fill="#000"/><circle cx="190.84" cy="39.60" r="1.05" fill="#000"/><circle cx="186.70" cy="35.86" r="1.05" fill="#000"/><circle cx="186.70" cy="43.34" r="1.05" fill="#000"/><circle cx="186.70" cy="39.60" r="1.05" fill="#000"/>
<path d="M196.00 36.20 V43.00 M194.00 38.00 L196.00 36.20" stroke="#000" stroke-width="1.7" fill="none"/>
<path d="M478.50 567.10 L487.90 575.90 M487.90 567.10 L478.50 575.90" stroke="#000" stroke-width="1.25" fill="none" stroke-linecap="round"/><circle cx="479.06" cy="571.50" r="1.05" fill="#000"/><circle cx="487.34" cy="571.50" r="1.05" fill="#000"/><circle cx="483.20" cy="567.76" r="1.05" fill="#000"/><circle cx="483.20" cy="575.24" r="1.05" fill="#000"/><circle cx="483.20" cy="571.50" r="1.05" fill="#000"/>
<path d="M491.00 568.00 V575.50 M488.50 569.80 L491.00 568.00" stroke="#000" stroke-width="1.7" fill="none"/>
<path d="M562.20 601.80 L571.60 610.60 M571.60 601.80 L562.20 610.60" stroke="#000" stroke-width="1.25" fill="none" stroke-linecap="round"/><circle cx="562.76" cy="606.20" r="1.05" fill="#000"/><circle cx="571.04" cy="606.20" r="1.05" fill="#000"/><circle cx="566.90" cy="602.46" r="1.05" fill="#000"/><circle cx="566.90" cy="609.94" r="1.05" fill="#000"/><circle cx="566.90" cy="606.20" r="1.05" fill="#000"/>
<path d="M576.00 603.00 V610.20 M574.40 604.80 L576.00 603.00" stroke="#000" stroke-width="1.7" fill="none"/>
<path d="M445.40 649.10 L454.80 657.90 M454.80 649.10 L445.40 657.90" stroke="#000" stroke-width="1.25" fill="none" stroke-linecap="round"/><circle cx="445.96" cy="653.50" r="1.05" fill="#000"/><circle cx="454.24" cy="653.50" r="1.05" fill="#000"/><circle cx="450.10" cy="649.76" r="1.05" fill="#000"/><circle cx="450.10" cy="657.24" r="1.05" fill="#000"/><circle cx="450.10" cy="653.50" r="1.05" fill="#000"/>
<path d="M458.50 650.00 V657.20 M457.20 651.80 L458.50 650.00" stroke="#000" stroke-width="1.7" fill="none"/>
<path d="M534.10 679.50 L543.50 688.30 M543.50 679.50 L534.10 688.30" stroke="#000" stroke-width="1.25" fill="none" stroke-linecap="round"/><circle cx="534.66" cy="683.90" r="1.05" fill="#000"/><circle cx="542.94" cy="683.90" r="1.05" fill="#000"/><circle cx="538.80" cy="680.16" r="1.05" fill="#000"/><circle cx="538.80" cy="687.64" r="1.05" fill="#000"/><circle cx="538.80" cy="683.90" r="1.05" fill="#000"/>
<path d="M547.75 680.20 V687.60 M545.40 682.00 L547.75 680.20" stroke="#000" stroke-width="1.7" fill="none"/>
<path d="M587.20 349.50 L595.20 357.10 M595.20 349.50 L587.20 357.10" stroke="#000" stroke-width="1.0" fill="none" stroke-linecap="round"/><circle cx="587.68" cy="353.30" r="0.75" fill="#000"/><circle cx="594.72" cy="353.30" r="0.75" fill="#000"/><circle cx="591.20" cy="350.07" r="0.75" fill="#000"/><circle cx="591.20" cy="356.53" r="0.75" fill="#000"/><circle cx="591.20" cy="353.30" r="0.75" fill="#000"/>
<text x="596.3" y="357.6" font-size="11.5" textLength="10" lengthAdjust="spacingAndGlyphs" class="s" font-weight="bold" stroke="#000" stroke-width="0.15">1(</text>
<text x="629.5" y="357.6" font-size="11.5" textLength="31.8" lengthAdjust="spacingAndGlyphs" class="s" font-weight="bold" stroke="#000" stroke-width="0.15">–0505)</text>
<text x="494.81" y="576.30" font-size="13.65" textLength="44.80" lengthAdjust="spacing" class="b" fill="#0b2f7a" style="stroke:#0b2f7a">87138</text>
<text x="128.8" y="16.6" font-size="10.8" textLength="43" lengthAdjust="spacingAndGlyphs" class="r" font-weight="bold" fill="#000">MANUAL</text>
<text x="616.3" y="786.2" font-size="10.4" textLength="42.8" lengthAdjust="spacingAndGlyphs" class="r" font-style="italic" font-weight="bold" fill="#000">872356G</text>
</g>
</svg>
</body></html>
